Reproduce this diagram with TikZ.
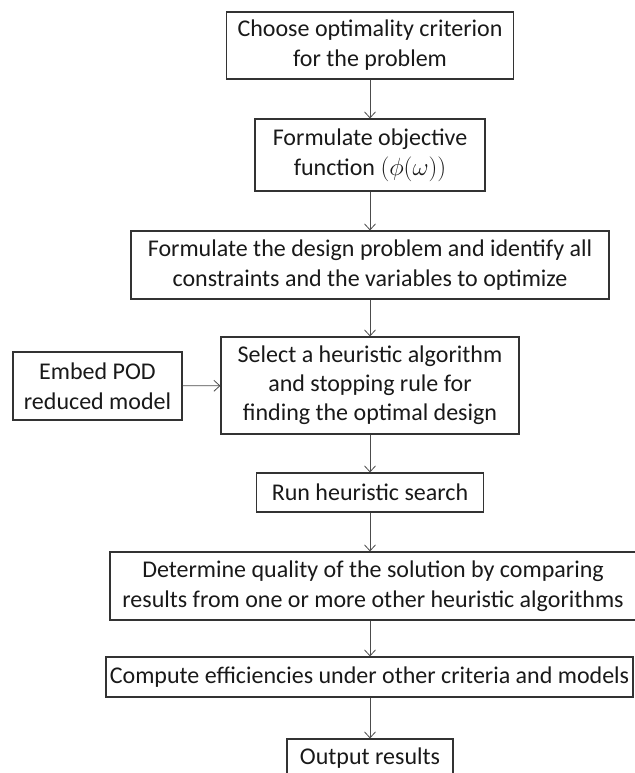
\documentclass[tikz,border=0pt]{standalone}
\usepackage{fontspec}
\setmainfont{Carlito}
\usetikzlibrary{arrows.meta}
\definecolor{boxc}{gray}{0.2}
\definecolor{linec}{gray}{0.3}
\definecolor{txtc}{gray}{0.1}
\begin{document}
\begin{tikzpicture}[x=1pt,y=-1pt,
  box/.style={draw=boxc, line width=1.1pt, align=center, inner sep=0pt,
    text=txtc, font=\fontsize{24}{30}\selectfont},
  link/.style={draw=linec, line width=0.8pt, -{Straight Barb[length=6pt,width=11pt]}}]
\useasboundingbox (0,0) rectangle (634,773);
\node[box, minimum width=287pt, minimum height=67pt] (n1) at (370,45.5)
  {Choose optimality criterion\\for the problem};
\node[box, minimum width=230pt, minimum height=72pt] (n2) at (370,155)
  {Formulate objective\\function $\big(\phi(\omega)\big)$};
\node[box, minimum width=478pt, minimum height=68pt] (n3) at (370,265)
  {Formulate the design problem and identify all\\constraints and the variables to optimize};
\node[box, minimum width=298pt, minimum height=97pt, font=\fontsize{24}{29}\selectfont] (n4) at (370,385.5)
  {Select a heuristic algorithm\\and stopping rule for\\finding the optimal design};
\node[box, minimum width=169pt, minimum height=68pt] (emb) at (97.5,386)
  {Embed POD\\reduced model};
\node[box, minimum width=227pt, minimum height=39pt] (n5) at (370,492.5)
  {Run heuristic search};
\node[box, minimum width=526pt, minimum height=68pt] (n6) at (373,586)
  {Determine quality of the solution by comparing\\results from one or more other heuristic algorithms};
\node[box, minimum width=527pt, minimum height=40pt] (n7) at (369.5,677)
  {Compute efficiencies under other criteria and models};
\node[box, minimum width=166pt, minimum height=38pt] (n8) at (370,758)
  {Output results};
\draw[link] (n1) -- (n2);
\draw[link] (n2) -- (n3);
\draw[link] (n3) -- (n4);
\draw[link] (emb) -- (n4);
\draw[link] (n4) -- (n5);
\draw[link] (n5.south) -- (n5.south |- n6.north);
\draw[link] (n5.south |- n6.south) -- (n5.south |- n7.north);
\draw[link] (n5.south |- n7.south) -- (n8.north);
\end{tikzpicture}
\end{document}
